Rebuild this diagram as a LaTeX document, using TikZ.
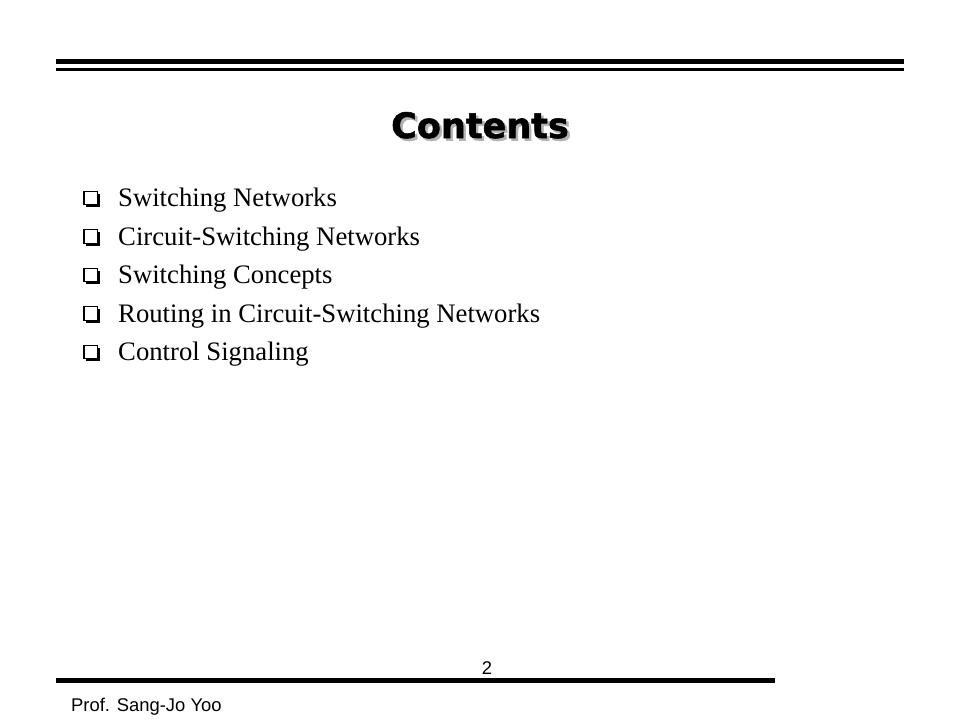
\documentclass[tikz,border=0pt]{standalone}
\usepackage{fontspec}
\setmainfont{Liberation Serif}
\newfontfamily\titlefont[BoldFeatures={FakeBold=1.6}]{DejaVu Sans}
\newfontfamily\footfont{Liberation Sans}
\usepackage{tikz}
\usetikzlibrary{positioning,shadows}
\tikzstyle{item} = [anchor=base west,inner sep=0pt,text height=19pt,text depth=2pt,font=\fontsize{26.7}{30}\selectfont]
\tikzstyle{bullet} = [rectangle,draw=black,fill=white,line width=1.3pt,minimum size=13.5pt,inner sep=0pt,
  drop shadow={shadow xshift=2.6pt,shadow yshift=-2.6pt,fill=black,opacity=1}]
\tikzstyle{rule} = [line cap=butt]

\begin{document}
\begin{tikzpicture}[x=1pt,y=-1pt]
        \useasboundingbox[fill=white] (0,0) rectangle (960,720);
        % header rules
        \draw[rule,line width=4.7pt] (56,61.7) -- (904,61.7);
        \draw[rule,line width=3pt] (56,69.2) -- (904,69.2);
        % title
        \node[anchor=base,inner sep=0pt,text=black!30,font=\titlefont\bfseries\fontsize{35}{40}\selectfont] (title-shadow) at (482.5,140.5) {Contents};
        \node[anchor=base,inner sep=0pt,font=\titlefont\bfseries\fontsize{35}{40}\selectfont] (title) at (480,138) {Contents};
        % items
        \node[item] (switch) at (118,206.5) {Switching Networks};
        \node[below=38.5pt of switch.base west,item] (circuit) {Circuit-Switching Networks};
        \node[below=38.5pt of circuit.base west,item] (concepts) {Switching Concepts};
        \node[below=38.5pt of concepts.base west,item] (routing) {Routing in Circuit-Switching Networks};
        \node[below=38.5pt of routing.base west,item] (control) {Control Signaling};
        \node[bullet,left=20pt of switch.west] (b-switch) {};
        \node[bullet,left=20pt of circuit.west] (b-circuit) {};
        \node[bullet,left=20pt of concepts.west] (b-concepts) {};
        \node[bullet,left=20pt of routing.west] (b-routing) {};
        \node[bullet,left=20pt of control.west] (b-control) {};
        % footer
        \draw[rule,line width=4.7pt] (56,680.3) -- (775,680.3);
        \node[anchor=base,inner sep=0pt,font=\footfont\fontsize{18.4}{22}\selectfont] (page) at (487,674) {2};
        \node[anchor=base west,inner sep=0pt,font=\footfont\fontsize{18.4}{22}\selectfont] (author) at (71,711) {Prof. Sang-Jo Yoo};
    \end{tikzpicture}
\end{document}
